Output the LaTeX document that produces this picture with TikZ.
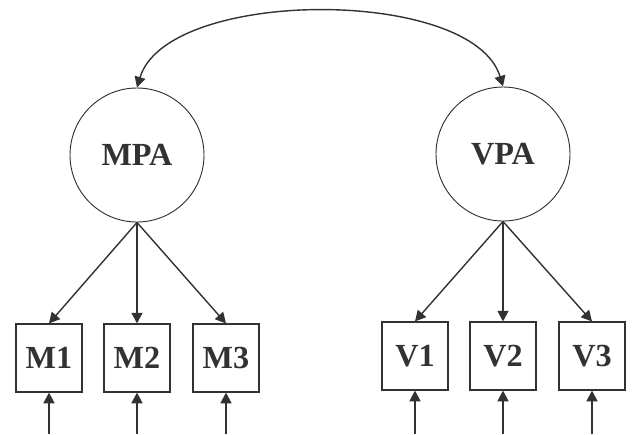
\documentclass[tikz,border=0pt]{standalone}
\usepackage{fontspec}
\setmainfont{Liberation Serif}
\usetikzlibrary{arrows.meta, calc}
\definecolor{inkGrey}{RGB}{50, 50, 50}

\begin{document}
\begin{tikzpicture} [
        x=0.03cm, y=-0.03cm,
        latent/.style={draw=inkGrey, circle, line width=0.8pt, minimum size=4.02cm, inner sep=0pt, text=inkGrey, font=\fontsize{27.5}{30}\selectfont\bfseries},
        observed/.style={draw=inkGrey, line width=1pt, minimum width=1.98cm, minimum height=2.04cm, inner sep=0pt, text=inkGrey, font=\fontsize{27.5}{30}\selectfont\bfseries},
        path arrow/.style={draw=inkGrey, line width=1.2pt, -{Triangle[length=0.32cm, width=0.33cm]}},
        cov arrow/.style={draw=inkGrey, line width=1.2pt, {Triangle[length=0.32cm, width=0.33cm]}-{Triangle[length=0.32cm, width=0.33cm]}}
    ]

    \useasboundingbox (0,0) rectangle (634,434);

    \path (137,155) node[latent] (MPA) {MPA};
    \path (503,154) node[latent] (VPA) {VPA};

    \path (137,358) node[observed] (M2) {M2};
    \path (M2) ++(-88,0) node[observed] (M1) {M1};
    \path (M2) ++(89,0) node[observed] (M3) {M3};

    \path (503,356) node[observed] (V2) {V2};
    \path (V2) ++(-88,0) node[observed] (V1) {V1};
    \path (V2) ++(89,0) node[observed] (V3) {V3};

    % error terms come in from below the picture
    \coordinate (eM1) at (M1 |- 0,434);
    \coordinate (eM2) at (M2 |- 0,434);
    \coordinate (eM3) at (M3 |- 0,434);
    \coordinate (eV1) at (V1 |- 0,434);
    \coordinate (eV2) at (V2 |- 0,434);
    \coordinate (eV3) at (V3 |- 0,434);

    \draw[cov arrow] (MPA.north) .. controls ($ (MPA.north)+(30,-100) $) and ($ (VPA.north)+(-30,-100) $) .. (VPA.north);

    \draw[path arrow] (MPA.south) -- (M1.north);
    \draw[path arrow] (MPA.south) -- (M2.north);
    \draw[path arrow] (MPA.south) -- (M3.north);
    \draw[path arrow] (VPA.south) -- (V1.north);
    \draw[path arrow] (VPA.south) -- (V2.north);
    \draw[path arrow] (VPA.south) -- (V3.north);

    \draw[path arrow] (eM1) -- (M1.south);
    \draw[path arrow] (eM2) -- (M2.south);
    \draw[path arrow] (eM3) -- (M3.south);
    \draw[path arrow] (eV1) -- (V1.south);
    \draw[path arrow] (eV2) -- (V2.south);
    \draw[path arrow] (eV3) -- (V3.south);

\end{tikzpicture}
\end{document}
